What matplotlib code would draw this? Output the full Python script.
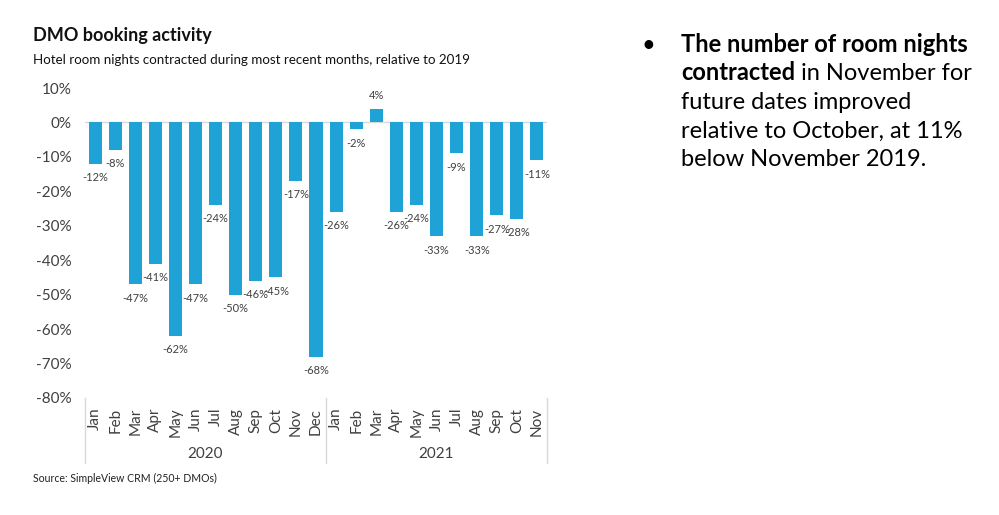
import matplotlib
matplotlib.use("Agg")
import matplotlib.pyplot as plt
import matplotlib.transforms as mtransforms

plt.rcParams['font.family'] = ['Lato', 'DejaVu Sans']

months = ["Jan", "Feb", "Mar", "Apr", "May", "Jun", "Jul", "Aug", "Sep", "Oct", "Nov", "Dec",
          "Jan", "Feb", "Mar", "Apr", "May", "Jun", "Jul", "Aug", "Sep", "Oct", "Nov"]
years = ["2020", "2021"]
year_counts = [12, 11]
values = [-12, -8, -47, -41, -62, -47, -24, -50, -46, -45, -17, -68,
          -26, -2, 4, -26, -24, -33, -9, -33, -27, -28, -11]
yticks = [10, 0, -10, -20, -30, -40, -50, -60, -70, -80]

title = "DMO booking activity"
subtitle = "Hotel room nights contracted during most recent months, relative to 2019"
source = "Source: SimpleView CRM (250+ DMOs)"

W, H = 999, 515
fig = plt.figure(figsize=(W / 100, H / 100), dpi=100)

def fx(px):
    return px / W

def fy(py):
    return 1 - py / H

ax = fig.add_axes([fx(85), fy(398), (547 - 85) / W, (398 - 88) / H])

bar_color = "#1FA3D7"
text_gray = "#404040"
x = list(range(len(values)))
ax.bar(x, values, width=0.65, color=bar_color, zorder=3)
ax.set_xlim(-0.5, len(values) - 0.5)
ax.set_ylim(-80, 10)
ax.axhline(0, color="#d9d9d9", lw=1, zorder=2)

for s in ax.spines.values():
    s.set_visible(False)

ax.set_yticks(yticks)
ax.set_yticklabels([f"{v}%" for v in yticks], fontsize=11, color=text_gray)
ax.tick_params(axis='y', length=0, pad=9.5)

ax.set_xticks(x)
ax.set_xticklabels(months, rotation=90, fontsize=11, color=text_gray, va='top', ha='center')
ax.tick_params(axis='x', length=0, pad=7)

for xi, v in zip(x, values):
    if v < 0:
        ax.annotate(f"{v}%", (xi, v), xytext=(0, -10), textcoords='offset points',
                    ha='center', va='center', fontsize=8, color=text_gray, zorder=4)
    else:
        ax.annotate(f"{v}%", (xi, v), xytext=(0, 9.5), textcoords='offset points',
                    ha='center', va='center', fontsize=8, color=text_gray, zorder=4)

trans = mtransforms.blended_transform_factory(ax.transData, ax.transAxes)
bounds = [-0.5]
for c in year_counts:
    bounds.append(bounds[-1] + c)
for b in bounds:
    ax.plot([b, b], [0, -65 / 310], transform=trans, color="#d9d9d9", lw=1, clip_on=False)
for i, yr in enumerate(years):
    ax.text((bounds[i] + bounds[i + 1]) / 2, -56 / 310, yr, transform=trans,
            ha='center', va='center', fontsize=11, color=text_gray)

fig.text(fx(33), fy(41), title, fontsize=13, fontweight='bold', color="#111111", va='baseline')
fig.text(fx(33), fy(63.5), subtitle, fontsize=9.6, color="#111111", va='baseline')
fig.text(fx(33), fy(482), source, fontsize=7.6, color="#222222", va='baseline')

# Right-hand bullet text
fs = 17
baselines = [52, 80.5, 109, 137.5, 166]
tx = fx(681)
fig.text(fx(648), fy(52), "\u2022", fontsize=fs, ha='center', va='baseline', color="black")
fig.text(tx, fy(baselines[0]), "The number of room nights", fontsize=fs, fontweight='bold',
         va='baseline', color="black")
t_bold = fig.text(tx, fy(baselines[1]), "contracted", fontsize=fs, fontweight='bold',
                  va='baseline', color="black")
renderer = fig.canvas.get_renderer()
bb = t_bold.get_window_extent(renderer=renderer)
fig.text(bb.x1 / W, fy(baselines[1]), " in November for", fontsize=fs,
         va='baseline', color="black")
fig.text(tx, fy(baselines[2]), "future dates improved", fontsize=fs, va='baseline', color="black")
fig.text(tx, fy(baselines[3]), "relative to October, at 11%", fontsize=fs, va='baseline', color="black")
fig.text(tx, fy(baselines[4]), "below November 2019.", fontsize=fs, va='baseline', color="black")

fig.savefig("out.png", dpi=100)
